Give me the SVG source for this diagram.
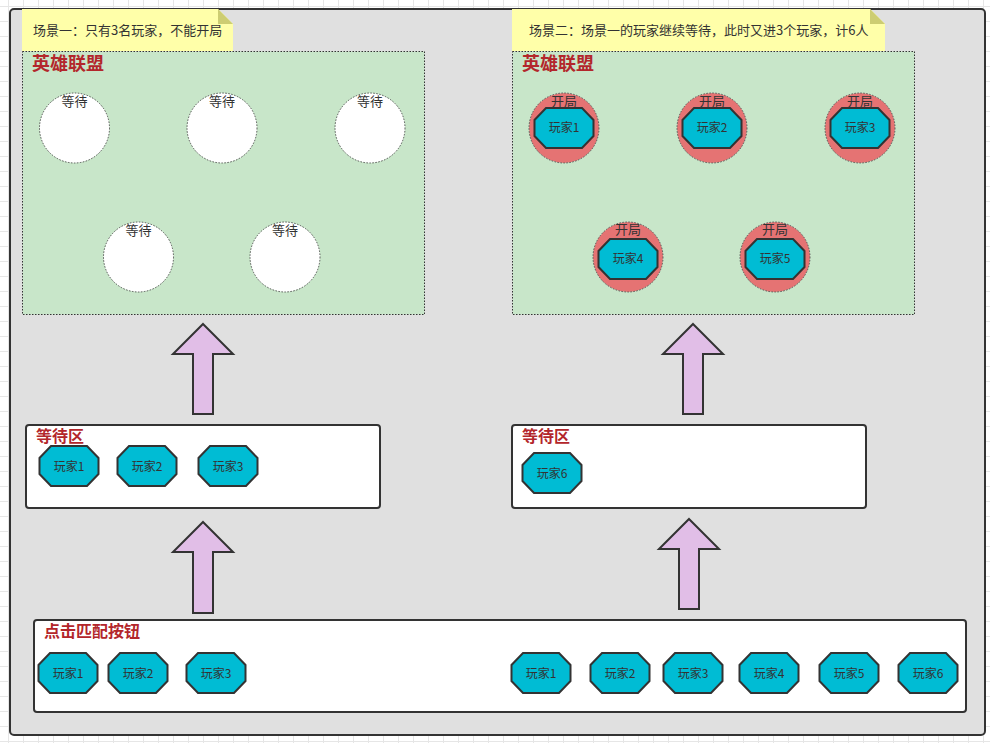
<svg xmlns="http://www.w3.org/2000/svg" width="990" height="743" viewBox="0 0 990 743">
<style>
text{font-family:"Microsoft YaHei","Noto Sans CJK SC","Noto Sans",sans-serif;fill:#333}
.lbl{font-size:12px;text-anchor:middle}
.slot{font-size:13px;text-anchor:middle}
.ttl{font-size:18px;font-weight:bold;fill:#b3262b}
.ttl2{font-size:16px;font-weight:bold;fill:#b3262b}
.ntxt{font-size:13px}
.note{fill:#ffffa9}
.fold{fill:#cdcd72}
.zone{fill:#c8e6c9;stroke:#333;stroke-width:1;stroke-dasharray:1.5 1.5}
.box{fill:#fff;stroke:#333;stroke-width:2}
.wait{fill:#fff;stroke:#555;stroke-width:1;stroke-dasharray:1.5 1.5}
.open{fill:#e57373;stroke:#555;stroke-width:1;stroke-dasharray:1.5 1.5}
.oct{fill:#00bcd4;stroke:#333;stroke-width:2}
.arrow{fill:#e1bee7;stroke:#333;stroke-width:2;stroke-linejoin:miter}
</style>
<defs>
<pattern id="grid" x="8" y="6" width="15" height="15" patternUnits="userSpaceOnUse">
<path d="M0.5 0V15M0 0.5H15" stroke="#e6e6e6" stroke-width="1" fill="none"/>
</pattern>
<path id="oct" d="M-18 -20H18L29.5 -8V8L18 20H-18L-29.5 8V-8Z"/>
</defs>
<rect width="990" height="743" fill="#fff"/>
<rect width="990" height="743" fill="url(#grid)"/>
<g id="container">
<rect x="10" y="9" width="975" height="726" rx="4" fill="#e0e0e0" stroke="#333" stroke-width="2"/>
</g>
<g id="note1">
<path class="note" d="M22 9H218L233 24V51H22Z"/>
<path class="fold" d="M218 9V24H233Z"/>
<text class="ntxt" x="33" y="35">场景一：只有3名玩家，不能开局</text>
</g>
<g id="note2">
<path class="note" d="M512 9H870L885 24V51H512Z"/>
<path class="fold" d="M870 9V24H885Z"/>
<text class="ntxt" x="529" y="35">场景二：场景一的玩家继续等待，此时又进3个玩家，计6人</text>
</g>
<g id="lol1">
<rect class="zone" x="22.5" y="51.5" width="402" height="263"/>
<text class="ttl" x="32" y="70">英雄联盟</text>
</g>
<g id="wait-slots">
<circle class="wait" cx="74.5" cy="128" r="35"/><text class="slot" x="74.5" y="106">等待</text>
<circle class="wait" cx="222" cy="128" r="35"/><text class="slot" x="222" y="106">等待</text>
<circle class="wait" cx="370" cy="128" r="35"/><text class="slot" x="370" y="106">等待</text>
<circle class="wait" cx="138.5" cy="257" r="35"/><text class="slot" x="138.5" y="235">等待</text>
<circle class="wait" cx="285" cy="257" r="35"/><text class="slot" x="285" y="235">等待</text>
</g>
<g id="lol2">
<rect class="zone" x="512.5" y="51.5" width="402" height="263"/>
<text class="ttl" x="522" y="70">英雄联盟</text>
</g>
<g id="open-slots">
<circle class="open" cx="564" cy="128" r="35"/><text class="slot" x="564" y="106">开局</text>
<use href="#oct" class="oct" x="564" y="128"/><text class="lbl" x="564" y="132">玩家1</text>
<circle class="open" cx="712" cy="128" r="35"/><text class="slot" x="712" y="106">开局</text>
<use href="#oct" class="oct" x="712" y="128"/><text class="lbl" x="712" y="132">玩家2</text>
<circle class="open" cx="860" cy="128" r="35"/><text class="slot" x="860" y="106">开局</text>
<use href="#oct" class="oct" x="860" y="128"/><text class="lbl" x="860" y="132">玩家3</text>
<circle class="open" cx="628" cy="257" r="35"/><text class="slot" x="628" y="234">开局</text>
<use href="#oct" class="oct" x="628" y="259"/><text class="lbl" x="628" y="263">玩家4</text>
<circle class="open" cx="775" cy="257" r="35"/><text class="slot" x="775" y="234">开局</text>
<use href="#oct" class="oct" x="775" y="259"/><text class="lbl" x="775" y="263">玩家5</text>
</g>
<g id="waitzone1">
<rect class="box" x="26" y="425" width="354" height="83" rx="3"/>
<text class="ttl2" x="36" y="442">等待区</text>
<use href="#oct" class="oct" x="69" y="466"/><text class="lbl" x="69" y="471">玩家1</text>
<use href="#oct" class="oct" x="147" y="466"/><text class="lbl" x="147" y="471">玩家2</text>
<use href="#oct" class="oct" x="228" y="466"/><text class="lbl" x="228" y="471">玩家3</text>
</g>
<g id="waitzone2">
<rect class="box" x="512" y="425" width="354" height="83" rx="3"/>
<text class="ttl2" x="522" y="442">等待区</text>
<use href="#oct" class="oct" x="552" y="473"/><text class="lbl" x="552" y="478">玩家6</text>
</g>
<g id="matchbox">
<rect class="box" x="34" y="620" width="932" height="92" rx="3"/>
<text class="ttl2" x="44" y="637">点击匹配按钮</text>
<use href="#oct" class="oct" x="68" y="673"/><text class="lbl" x="68" y="678">玩家1</text>
<use href="#oct" class="oct" x="138" y="673"/><text class="lbl" x="138" y="678">玩家2</text>
<use href="#oct" class="oct" x="216" y="673"/><text class="lbl" x="216" y="678">玩家3</text>
<use href="#oct" class="oct" x="541" y="673"/><text class="lbl" x="541" y="678">玩家1</text>
<use href="#oct" class="oct" x="620" y="673"/><text class="lbl" x="620" y="678">玩家2</text>
<use href="#oct" class="oct" x="693" y="673"/><text class="lbl" x="693" y="678">玩家3</text>
<use href="#oct" class="oct" x="769" y="673"/><text class="lbl" x="769" y="678">玩家4</text>
<use href="#oct" class="oct" x="849" y="673"/><text class="lbl" x="849" y="678">玩家5</text>
<use href="#oct" class="oct" x="928" y="673"/><text class="lbl" x="928" y="678">玩家6</text>
</g>
<g id="connectors">
<path class="arrow" d="M203 324L233 354H213V414H193V354H173Z"/>
<path class="arrow" d="M203 522L233 552H213V613H193V552H173Z"/>
<path class="arrow" d="M693 324L723 354H703V414H683V354H663Z"/>
<path class="arrow" d="M689 519L719 549H699V609H679V549H659Z"/>
</g>
</svg>
